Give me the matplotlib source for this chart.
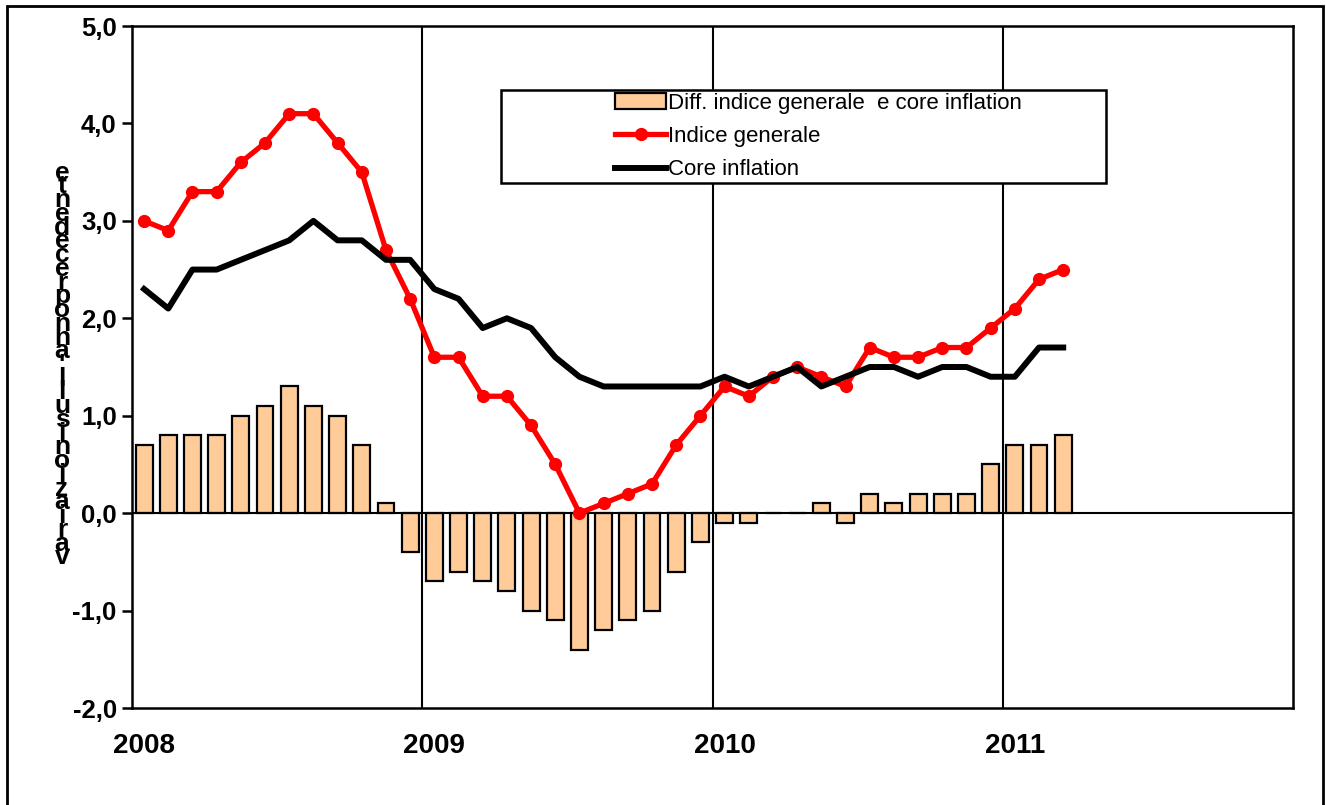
import matplotlib.pyplot as plt
import matplotlib.patches as mpatches
import numpy as np
from matplotlib.ticker import FuncFormatter

plt.rcParams['font.family'] = ['Liberation Sans', 'DejaVu Sans']

# monthly data, Jan 2008 - Mar 2011
indice_generale = [3.0, 2.9, 3.3, 3.3, 3.6, 3.8, 4.1, 4.1, 3.8, 3.5, 2.7, 2.2,
                   1.6, 1.6, 1.2, 1.2, 0.9, 0.5, 0.0, 0.1, 0.2, 0.3, 0.7, 1.0,
                   1.3, 1.2, 1.4, 1.5, 1.4, 1.3, 1.7, 1.6, 1.6, 1.7, 1.7, 1.9,
                   2.1, 2.4, 2.5]
core_inflation = [2.3, 2.1, 2.5, 2.5, 2.6, 2.7, 2.8, 3.0, 2.8, 2.8, 2.6, 2.6,
                  2.3, 2.2, 1.9, 2.0, 1.9, 1.6, 1.4, 1.3, 1.3, 1.3, 1.3, 1.3,
                  1.4, 1.3, 1.4, 1.5, 1.3, 1.4, 1.5, 1.5, 1.4, 1.5, 1.5, 1.4,
                  1.4, 1.7, 1.7]
diff = [0.7, 0.8, 0.8, 0.8, 1.0, 1.1, 1.3, 1.1, 1.0, 0.7, 0.1, -0.4,
        -0.7, -0.6, -0.7, -0.8, -1.0, -1.1, -1.4, -1.2, -1.1, -1.0, -0.6, -0.3,
        -0.1, -0.1, 0.0, 0.0, 0.1, -0.1, 0.2, 0.1, 0.2, 0.2, 0.2, 0.5,
        0.7, 0.7, 0.8]
years = ['2008', '2009', '2010', '2011']
ylabel = "variazioni sull'anno precedente"

x = np.arange(len(diff)) + 0.5

fig = plt.figure(figsize=(13.26, 8.05), dpi=100)
ax = fig.add_axes([132/1326, 1-708/805, (1293-132)/1326, (708-26)/805])

# outer frame
fig.patches.append(mpatches.Rectangle((7/1326, -0.02), (1323-7)/1326, 1.02-6/805,
                                      transform=fig.transFigure, fill=False,
                                      edgecolor='black', linewidth=2))

bars = ax.bar(x, diff, width=0.7, color='#FFCC99', edgecolor='black', linewidth=1.6,
              label='Diff. indice generale  e core inflation', zorder=2)
l1, = ax.plot(x, indice_generale, color='#FF0000', linewidth=3.8, marker='o',
              markersize=8.5, label='Indice generale', zorder=3)
l2, = ax.plot(x, core_inflation, color='black', linewidth=4.3,
              label='Core inflation', zorder=4)
ax.axhline(0, color='black', linewidth=1.5, zorder=2.5)
for b in [12, 24, 36]:
    ax.axvline(b, color='black', linewidth=1.5, zorder=1)

ax.set_xlim(0, 48)
ax.set_ylim(-2, 5)
ax.set_yticks(np.arange(-2, 6, 1))
ax.yaxis.set_major_formatter(FuncFormatter(lambda v, p: f'{v:.1f}'.replace('.', ',')))
ax.set_xticks([0.5, 12.5, 24.5, 36.5])
ax.set_xticklabels(years)
ax.tick_params(axis='x', length=0, pad=18, labelsize=20)
ax.tick_params(axis='y', direction='out', length=7, width=1.8, labelsize=18.5, pad=4)
for lab in ax.get_xticklabels() + ax.get_yticklabels():
    lab.set_fontweight('bold')
for s in ax.spines.values():
    s.set_linewidth(1.8)

# stacked y label
fig.text(62/1326, 1-365/805, '\n'.join(reversed(ylabel.replace(' ', ''))),
         ha='center', va='center', fontsize=19, fontweight='bold', linespacing=0.46)

# legend box
ax.add_patch(mpatches.Rectangle(((501-132)/1161, (708-183)/682), (1106-501)/1161, (183-90)/682,
                                transform=ax.transAxes, facecolor='white',
                                edgecolor='black', linewidth=1.8, zorder=5))
leg = ax.legend([bars, l1, l2], [bars.get_label(), l1.get_label(), l2.get_label()],
                loc='upper left', bbox_to_anchor=(615/1326, 1-93/805),
                bbox_transform=fig.transFigure, frameon=False, fontsize=16,
                handlelength=2.3, handletextpad=0.1, labelspacing=0.55,
                borderpad=0, borderaxespad=0)
leg.set_zorder(6)

fig.savefig('out.png', dpi=100)
